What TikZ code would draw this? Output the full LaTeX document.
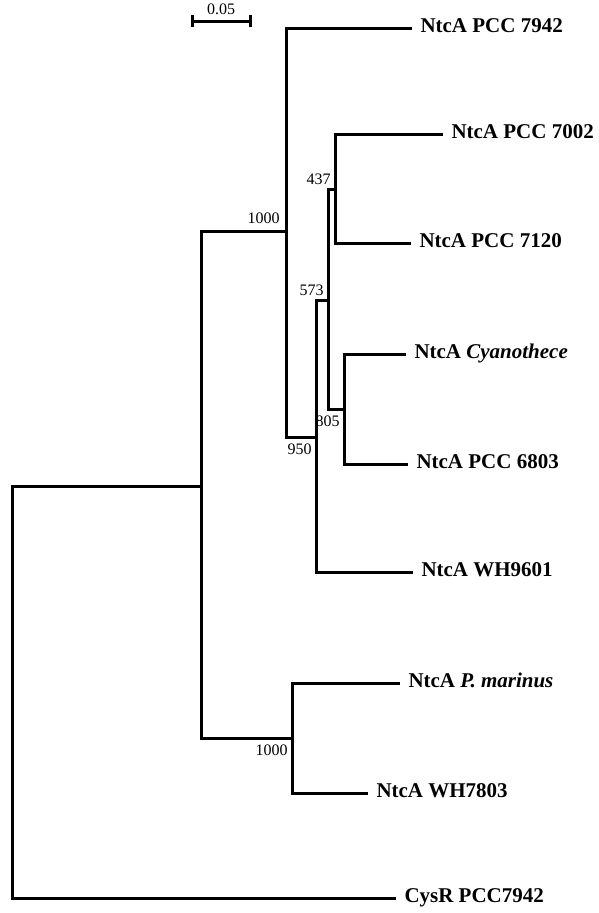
\documentclass[tikz,border=0pt]{standalone}
\usepackage{fontspec}
\setmainfont{Liberation Serif}
\begin{document}
\begin{tikzpicture}[x=1pt,y=-1pt,line width=3pt,
leaf/.style={anchor=west,inner xsep=7pt,inner ysep=0pt,text height=14pt,text depth=6pt,font=\fontsize{21}{21}\selectfont\bfseries},
boot/.style={inner sep=3pt,font=\fontsize{16}{16}\selectfont}]
\useasboundingbox (0,0) rectangle (598,913);
\node[leaf](pcc7942) at (412,28){NtcA PCC 7942};
\node[leaf](pcc7002) at (443,134){NtcA PCC 7002};
\node[leaf](pcc7120) at (411,243){NtcA PCC 7120};
\node[leaf](cyano) at (406,354){NtcA \textit{Cyanothece}};
\node[leaf](pcc6803) at (408,464){NtcA PCC 6803};
\node[leaf](wh9601) at (413,572){NtcA WH9601};
\node[leaf](pmar) at (400,683){NtcA \textit{P. marinus}};
\node[leaf](wh7803) at (368,793){NtcA WH7803};
\node[leaf](cysr) at (396,898){CysR PCC7942};
\coordinate (root) at (12,486);
\coordinate (n1) at (201,486);
\coordinate (n2) at (286,231);
\coordinate (n3) at (316,437);
\coordinate (n4) at (328,300);
\coordinate (n5) at (335,189);
\coordinate (n6) at (344,409);
\coordinate (n7) at (292,738);
\draw (n1)--(root)|-(cysr);
\draw (n2)-|(n1)|-(n7);
\draw (pcc7942)-|(n2)|-(n3);
\draw (n4)-|(n3)|-(wh9601);
\draw (n5)-|(n4)|-(n6);
\draw (pcc7002)-|(n5)|-(pcc7120);
\draw (cyano)-|(n6)|-(pcc6803);
\draw (pmar)-|(n7)|-(wh7803);
\node[boot,anchor=south east](b2) at ([xshift=-2pt,yshift=3pt]n2){1000};
\node[boot,anchor=north east](b3) at ([yshift=-2pt]n3){950};
\node[boot,anchor=south east](b4) at (n4){573};
\node[boot,anchor=south east](b5) at (n5){437};
\node[boot,anchor=north east](b6) at ([yshift=-2pt]n6){805};
\node[boot,anchor=north east](b7) at ([yshift=-2pt]n7){1000};
\draw (192,15)--(192,27) (192,21)--(250,21) (250,15)--(250,27);
\node[boot,anchor=south,inner ysep=1pt](scale) at (221,17){0.05};
\end{tikzpicture}
\end{document}
